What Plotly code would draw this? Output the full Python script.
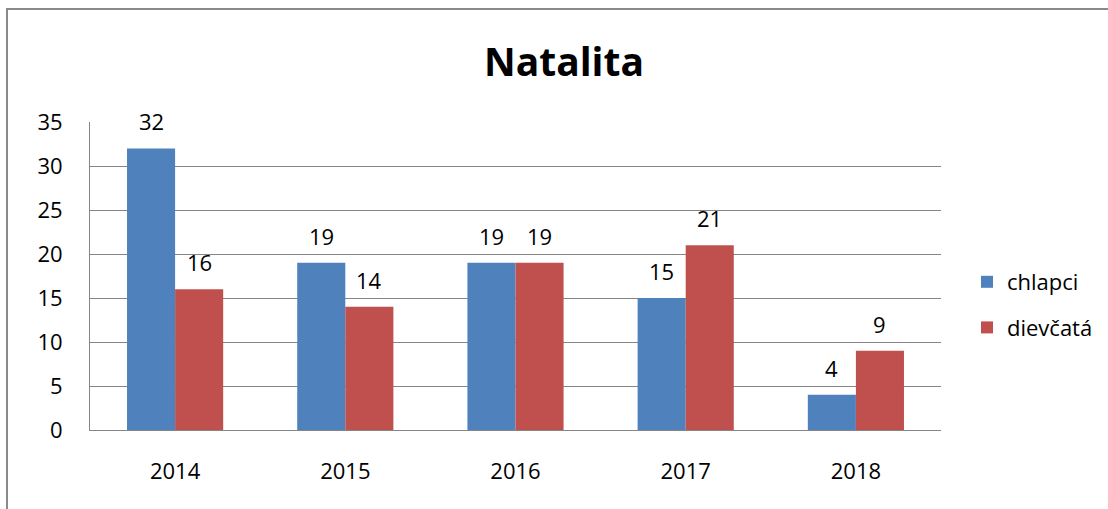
import plotly.graph_objects as go

years = ["2014", "2015", "2016", "2017", "2018"]
chlapci = [32, 19, 19, 15, 4]
dievcata = [16, 14, 19, 21, 9]
series_names = ["chlapci", "dievčatá"]
colors = ["#4F81BD", "#C0504D"]
title_text = "Natalita"

FONT = "Open Sans"
fig = go.Figure()
for name, vals, col in zip(series_names, [chlapci, dievcata], colors):
    fig.add_trace(go.Bar(x=years, y=vals, name=name, marker_color=col,
                         marker_line_width=0, legendgroup=name))

# data labels (category axis: annotations use category index)
half_bar = 24
for vals, shift in [(chlapci, -half_bar), (dievcata, half_bar)]:
    for i, v in enumerate(vals):
        fig.add_annotation(x=i, y=v, text=str(v), showarrow=False,
                           xshift=shift, yshift=27, yanchor="middle",
                           font=dict(family=FONT, size=22, color="#000"))

L, R, T, B = 90, 167, 122, 79
W, H = 1108, 509
pw, ph = W - L - R, H - T - B
def px(x):
    return (x - L) / pw
def py(y):
    return (H - B - y) / ph

fig.add_shape(type="rect", xref="paper", yref="paper",
              x0=px(7), x1=px(1115), y0=py(9), y1=py(520),
              line=dict(color="#8a8a8a", width=2), fillcolor="rgba(0,0,0,0)",
              layer="below")

fig.update_layout(
    width=W, height=H,
    margin=dict(l=L, r=R, t=T, b=B, autoexpand=False),
    paper_bgcolor="white", plot_bgcolor="white",
    barmode="group", bargap=0.435, bargroupgap=0,
    title=dict(text=f"<b>{title_text}</b>", xref="container", x=564 / W,
               xanchor="center", yref="container", y=1 - 62 / H, yanchor="middle",
               font=dict(family=FONT, size=39, color="#000")),
    font=dict(family=FONT, size=22, color="#000"),
    legend=dict(x=px(967), xanchor="left", y=py(261), yanchor="top",
                traceorder="grouped", tracegroupgap=14,
                font=dict(family=FONT, size=22, color="#000"),
                bgcolor="rgba(0,0,0,0)"),
    showlegend=True,
)
fig.update_yaxes(range=[0, 35], dtick=5, showgrid=True, gridcolor="#868686",
                 gridwidth=1, showline=True, linecolor="#868686", linewidth=1,
                 zeroline=False, ticks="", ticklabelstandoff=22, automargin=False,
                 tickfont=dict(family=FONT, size=22, color="#000"))
fig.update_xaxes(type="category", range=[-0.5, len(years) - 0.5],
                 showline=True, linecolor="#868686", linewidth=1,
                 ticks="", ticklabelstandoff=22, automargin=False,
                 tickfont=dict(family=FONT, size=22, color="#000"))

fig.write_html("out.html", config={"displayModeBar": False})
with open("out.html", "r", encoding="utf-8") as f:
    html = f.read()
html = html.replace("<head>", "<head><style>html,body{margin:0;padding:0;}</style>", 1)
with open("out.html", "w", encoding="utf-8") as f:
    f.write(html)
